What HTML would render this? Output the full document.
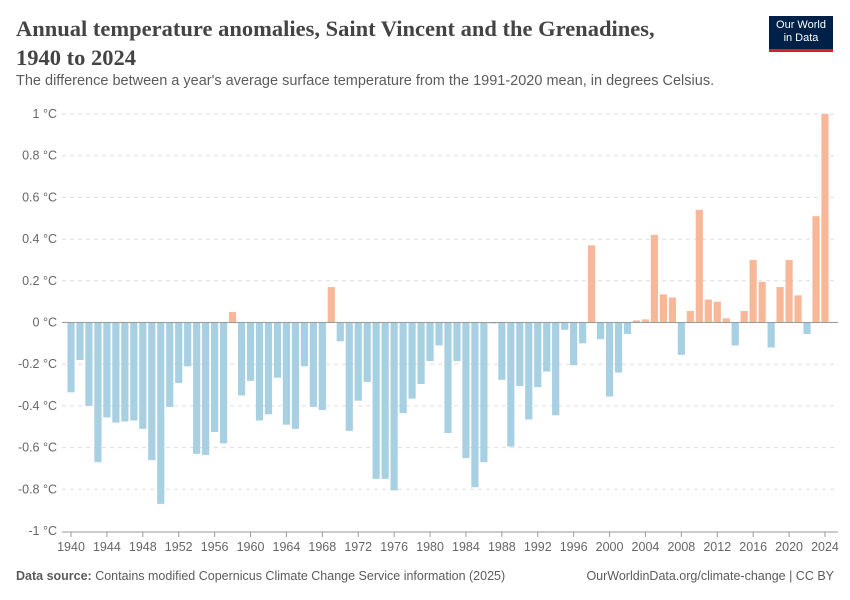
<!DOCTYPE html>
<html><head><meta charset="utf-8"><style>
body{margin:0;background:#fff;font-family:"Liberation Sans",sans-serif}
#wrap{position:relative;width:850px;height:600px;overflow:hidden}
.title{position:absolute;left:16px;top:14px;font-family:"Liberation Serif",serif;font-size:22.5px;line-height:29px;color:#444;margin:0;font-weight:bold}
.sub{position:absolute;left:16px;top:73px;font-size:14.5px;color:#5b5b5b}
.logo{position:absolute;left:769px;top:16px;width:64px;height:36px;background:#002147;color:#fff;font-size:11px;line-height:13px;text-align:center;padding-top:3px;box-sizing:border-box;border-bottom:3px solid #ce261e}
.foot{position:absolute;top:569px;font-size:12.5px;color:#5b5b5b}
</style></head><body><div id="wrap">
<h1 class="title">Annual temperature anomalies, Saint Vincent and the Grenadines,<br>1940 to 2024</h1>
<div class="sub">The difference between a year's average surface temperature from the 1991-2020 mean, in degrees Celsius.</div>
<div class="logo">Our World<br>in Data</div>
<svg id="svg" width="850" height="600" style="position:absolute;left:0;top:0"></svg>
<div class="foot" style="left:16px"><b>Data source:</b> Contains modified Copernicus Climate Change Service information (2025)</div>
<div class="foot" style="right:16px">OurWorldinData.org/climate-change | CC BY</div>
</div>
<script>
const years=[];for(let y=1940;y<=2024;y++)years.push(y);
const values=[-0.335,-0.18,-0.4,-0.67,-0.455,-0.48,-0.475,-0.47,-0.51,-0.66,-0.87,-0.405,-0.29,-0.21,-0.63,-0.635,-0.525,-0.58,0.05,-0.35,-0.28,-0.47,-0.44,-0.265,-0.49,-0.51,-0.21,-0.405,-0.42,0.17,-0.09,-0.52,-0.375,-0.285,-0.75,-0.75,-0.805,-0.435,-0.365,-0.295,-0.185,-0.11,-0.53,-0.185,-0.65,-0.79,-0.67,-0.005,-0.275,-0.595,-0.305,-0.465,-0.31,-0.235,-0.445,-0.035,-0.205,-0.1,0.37,-0.08,-0.355,-0.24,-0.055,0.01,0.015,0.42,0.135,0.12,-0.155,0.055,0.54,0.11,0.1,0.02,-0.11,0.055,0.3,0.195,-0.12,0.17,0.3,0.13,-0.055,0.51,1.0];
const yTicks=[1,0.8,0.6,0.4,0.2,0,-0.2,-0.4,-0.6,-0.8,-1];
const xTicks=[1940,1944,1948,1952,1956,1960,1964,1968,1972,1976,1980,1984,1988,1992,1996,2000,2004,2008,2012,2016,2020,2024];
const svg=document.getElementById('svg'),NS='http://www.w3.org/2000/svg';
const yS=v=>322.5-v*208.5, xS=y=>71+(y-1940)*8.976;
function mk(t,a){const e=document.createElementNS(NS,t);for(const k in a)e.setAttribute(k,a[k]);svg.appendChild(e);return e;}
yTicks.forEach(v=>{
 if(v!==0&&v!==-1){const g=mk('line',{x1:62,x2:838,y1:yS(v),y2:yS(v),stroke:'#ddd','stroke-dasharray':'4,4'});
 
 }
 const lab=(v<0?'-':'')+Math.abs(v)+' °C';
 const t=mk('text',{x:57,y:yS(v)+4,'text-anchor':'end','font-size':12.5,fill:'#666','font-family':'Liberation Sans'});t.textContent=lab;
 
 
});
years.forEach((y,i)=>{const v=values[i];
 const r=mk('rect',{x:xS(y)-3.6,width:7.2,y:Math.min(yS(v),yS(0)),height:Math.abs(yS(v)-yS(0)),fill:v>=0?'#f7b89a':'#a8d0e3'});
 
 
});
const z=mk('line',{x1:62,x2:838,y1:yS(0),y2:yS(0),stroke:'#999'});


const ax=mk('line',{x1:62,x2:838,y1:532,y2:532,stroke:'#999'});


xTicks.forEach(y=>{
 const tk=mk('line',{x1:xS(y),x2:xS(y),y1:532,y2:537,stroke:'#999'});
 
 
 const t=mk('text',{x:xS(y),y:551,'text-anchor':'middle','font-size':12.5,fill:'#666','font-family':'Liberation Sans'});t.textContent=y;
 
 
});
</script></body></html>
